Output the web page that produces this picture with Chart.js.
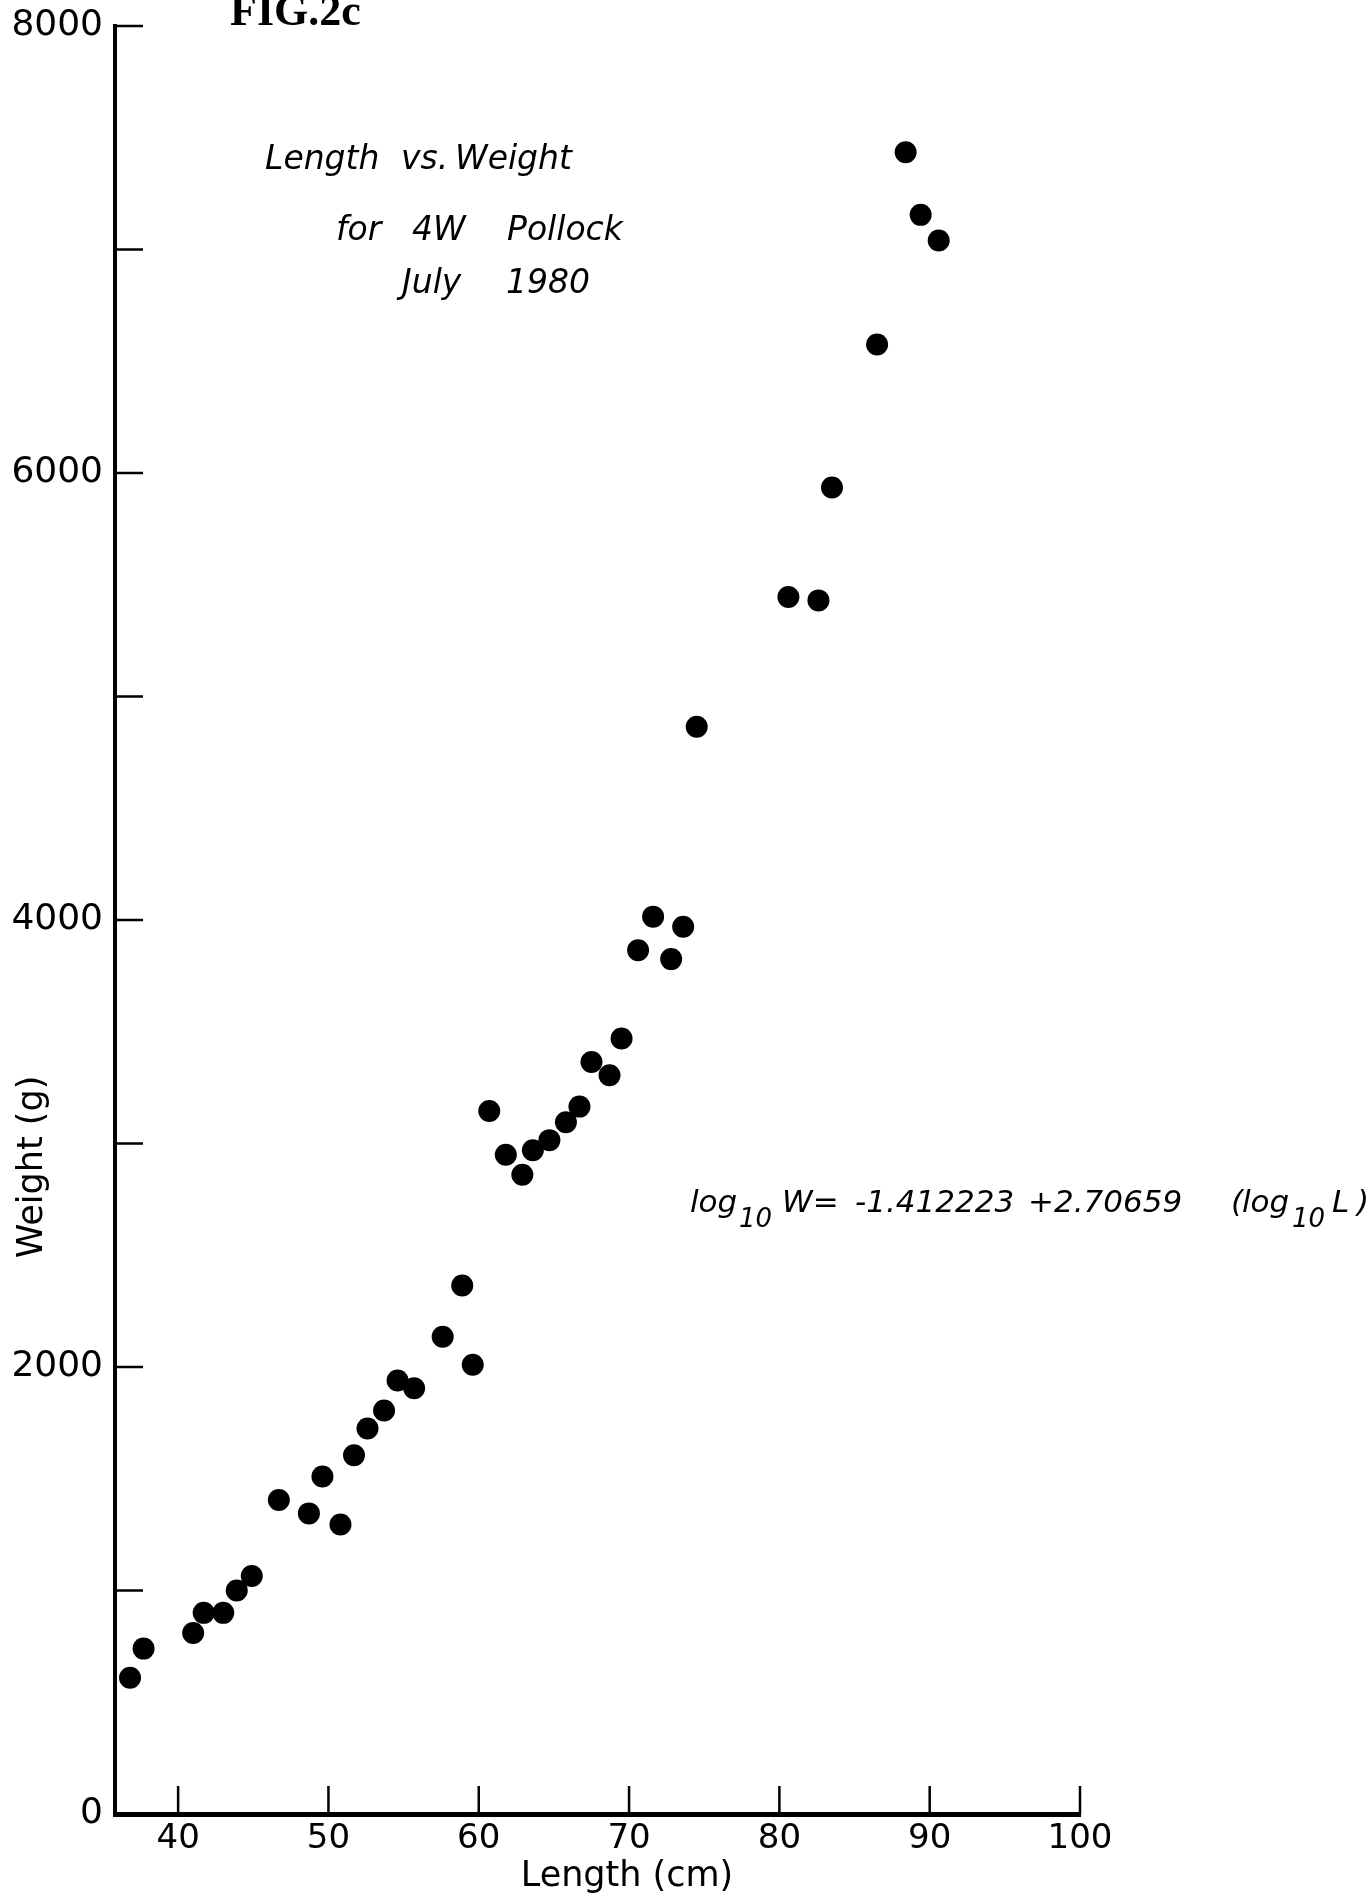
<!DOCTYPE html>
<html>
<head>
<meta charset="utf-8">
<title>FIG.2c Length vs. Weight for 4W Pollock, July 1980</title>
<script src="https://cdn.jsdelivr.net/npm/chart.js@4"></script>
<style>
  html, body { margin: 0; padding: 0; background: #fff; }
  canvas { display: block; }
</style>
</head>
<body>
<canvas id="fig" width="1369" height="1898"></canvas>
<script>
/* FIG.2c — length / weight of 4W pollock, July 1980 */
const lengths = [
  36.8, 37.7, 41.0, 41.7, 43.0, 43.9, 44.9, 46.7, 48.7, 49.6,
  50.8, 51.7, 52.6, 53.7, 54.6, 55.7, 57.6, 58.9, 59.6, 60.7,
  61.8, 62.9, 63.6, 64.7, 65.8, 66.7, 67.5, 68.7, 69.5, 70.6,
  71.6, 72.8, 73.6, 74.5, 80.6, 82.6, 83.5, 86.5, 88.4, 89.4,
  90.6,
];
const weights = [
  610, 740, 810, 900, 900, 1000, 1065, 1405, 1345, 1510,
  1295, 1605, 1725, 1805, 1940, 1905, 2135, 2365, 2010, 3145,
  2950, 2860, 2970, 3015, 3095, 3165, 3365, 3305, 3470, 3865,
  4015, 3825, 3970, 4865, 5445, 5430, 5935, 6575, 7435, 7155,
  7040,
];
const xTicks = [40, 50, 60, 70, 80, 90, 100];
const yTicks = [0, 1000, 2000, 3000, 4000, 5000, 6000, 7000, 8000];
const yLabelled = [0, 2000, 4000, 6000, 8000];

const BLACK = "#000";
const SANS = '"DejaVu Sans", sans-serif';

// text written on the figure (pixel positions on the page)
const captionLines = [
  { y: 169, parts: [["Length", 265], ["vs.", 401], ["Weight", 455]] },
  { y: 240, parts: [["for", 336], ["4W", 412], ["Pollock", 507]] },
  { y: 293, parts: [["July", 402], ["1980", 506]] },
];
const equation = {
  y: 1212,
  parts: [
    ["log", 690], ["10", 739, true], ["W=", 782], ["-1.412223", 855],
    ["+2.70659", 1028], ["(", 1231], ["log", 1242], ["10", 1292, true],
    ["L", 1332], [")", 1357],
  ],
};

function drawRun(ctx, line, size) {
  for (const [text, x, sub] of line.parts) {
    ctx.font = `italic ${sub ? 26 : size}px ${SANS}`;
    ctx.fillText(text, x, sub ? line.y + 15 : line.y);
  }
}

const inwardTicks = {
  id: "inwardTicks",
  afterDraw(chart) {
    const { ctx, chartArea: a, scales: { x, y } } = chart;
    ctx.save();
    ctx.strokeStyle = BLACK;
    ctx.lineWidth = 2.5;
    ctx.beginPath();
    for (const v of yTicks) {
      const py = y.getPixelForValue(v);
      ctx.moveTo(a.left, py);
      ctx.lineTo(a.left + 28, py);
    }
    for (const v of xTicks) {
      const px = x.getPixelForValue(v);
      ctx.moveTo(px, a.bottom);
      ctx.lineTo(px, a.bottom - 28);
    }
    ctx.stroke();
    ctx.restore();
  },
};

const figureText = {
  id: "figureText",
  afterDraw(chart) {
    const { ctx } = chart;
    ctx.save();
    ctx.fillStyle = BLACK;
    ctx.textBaseline = "alphabetic";
    ctx.textAlign = "left";

    ctx.font = 'bold 44px "Liberation Serif", serif';
    ctx.fillText("FIG.2c", 230, 25);

    captionLines.forEach((line) => drawRun(ctx, line, 33));
    drawRun(ctx, equation, 31);

    // axis titles
    ctx.font = `35px ${SANS}`;
    ctx.textAlign = "center";
    ctx.fillText("Length (cm)", 627, 1886);
    ctx.translate(33, 1167);
    ctx.rotate(-Math.PI / 2);
    ctx.textBaseline = "middle";
    ctx.fillText("Weight (g)", 0, 0);
    ctx.restore();
  },
};

new Chart(document.getElementById("fig"), {
  type: "scatter",
  data: {
    datasets: [
      {
        label: "4W Pollock",
        data: lengths.map((l, i) => ({ x: l, y: weights[i] })),
        backgroundColor: BLACK,
        borderWidth: 0,
        pointRadius: 11,
        pointHoverRadius: 11,
      },
    ],
  },
  options: {
    responsive: false,
    animation: false,
    devicePixelRatio: 1,
    layout: { padding: { left: 0, top: 26, right: 289, bottom: 0 } },
    plugins: { legend: { display: false }, tooltip: { enabled: false } },
    scales: {
      x: {
        type: "linear",
        min: 35.8,
        max: 100,
        afterBuildTicks: (s) => { s.ticks = xTicks.map((v) => ({ value: v })); },
        afterFit: (s) => { s.height = 84; },
        grid: { display: false, drawTicks: false },
        border: { display: true, width: 5, color: BLACK },
        ticks: {
          autoSkip: false,
          maxRotation: 0,
          padding: 5,
          color: BLACK,
          font: { family: SANS, size: 34 },
          callback: (v) => String(v),
        },
      },
      y: {
        type: "linear",
        min: 0,
        max: 8000,
        afterBuildTicks: (s) => { s.ticks = yTicks.map((v) => ({ value: v })); },
        afterFit: (s) => {
          s.width = 115;
          s.paddingTop = 0;
          s.paddingBottom = 0;
        },
        grid: { display: false, drawTicks: false },
        border: { display: true, width: 4, color: BLACK },
        ticks: {
          autoSkip: false,
          padding: 12,
          color: BLACK,
          font: { family: SANS, size: 36 },
          callback: (v) => (yLabelled.includes(v) ? String(v) : ""),
        },
      },
    },
  },
  plugins: [inwardTicks, figureText],
});
</script>
</body>
</html>
